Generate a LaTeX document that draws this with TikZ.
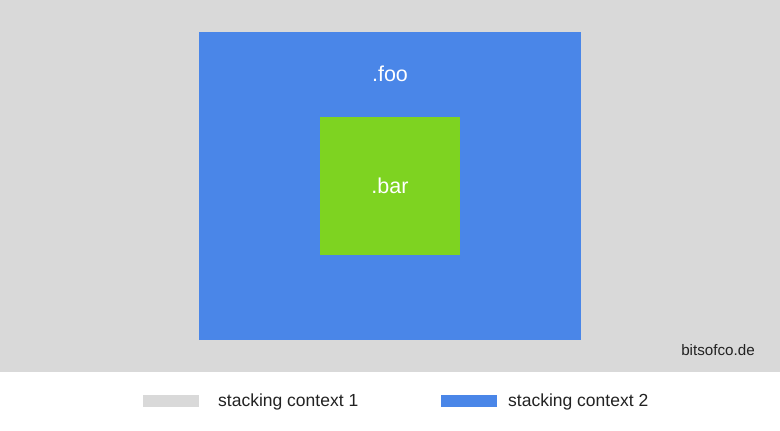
\documentclass[tikz,border=0pt]{standalone}
\usepackage{fontspec}
\setmainfont{Liberation Sans}
\usepackage{tikz}
\definecolor{ctxgray}{HTML}{D9D9D9}
\definecolor{ctxblue}{HTML}{4A86E8}
\definecolor{bargreen}{HTML}{7ED321}
\definecolor{inkdark}{HTML}{222222}
\tikzset{
  box/.style = {rectangle, inner sep = 0pt, outer sep = 0pt},
  swatch/.style = {box, minimum width = 56pt, minimum height = 12pt},
  legendtext/.style = {anchor = west, inner sep = 0pt, text = inkdark, font = \fontsize{17.5}{20}\selectfont}
}
\begin{document}
\begin{tikzpicture}[x = 1pt, y = 1pt]
    \useasboundingbox (0,0) rectangle (780,431);
    \fill[white] (0,0) rectangle (780,431);
    \fill[ctxgray] (0,59) rectangle (780,431);
    \coordinate (C) at (390,245);
    \node (foo) at (C) [box, fill = ctxblue, minimum width = 382pt, minimum height = 308pt] {};
    \node (bar) at (C) [box, fill = bargreen, minimum width = 140pt, minimum height = 138pt,
        text = white, font = \fontsize{21.5}{24}\selectfont] {.bar};
    \node (foolabel) at (390,357) [text = white, font = \fontsize{21.5}{24}\selectfont] {.foo};
    \node (site) at (755,81) [anchor = east, inner sep = 0pt, text = inkdark,
        font = \fontsize{15.2}{17}\selectfont] {bitsofco.de};
    % legend
    \node (key1) at (171,30) [swatch, fill = ctxgray] {};
    \node (text1) at (218,29.5) [legendtext] {stacking context 1};
    \node (key2) at (469,30) [swatch, fill = ctxblue] {};
    \node (text2) at (508,29.5) [legendtext] {stacking context 2};
\end{tikzpicture}
\end{document}
